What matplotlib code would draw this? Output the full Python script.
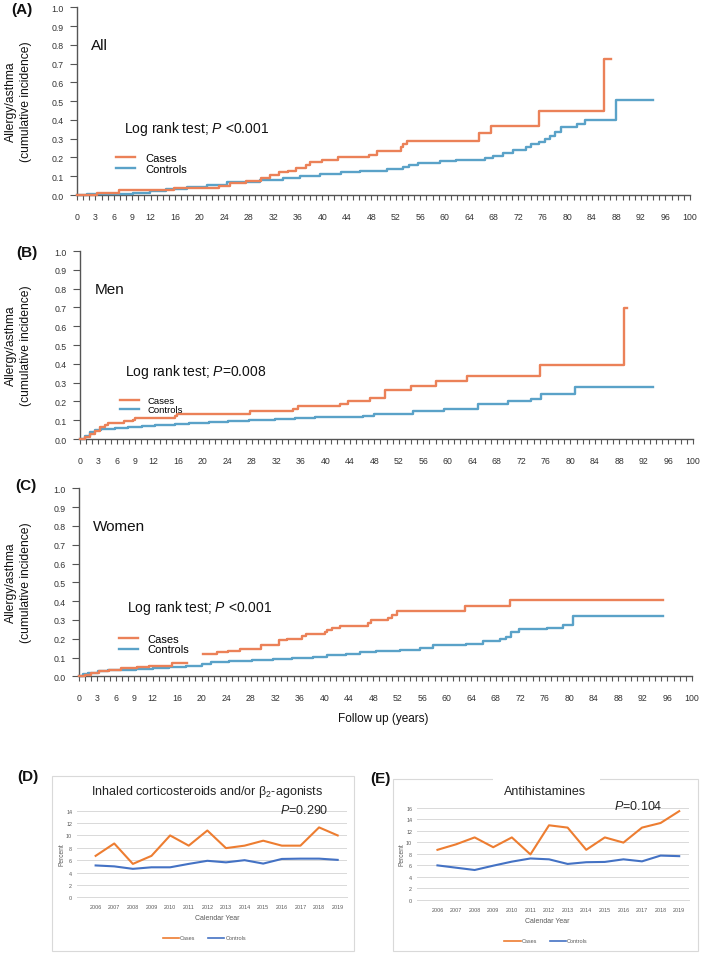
import matplotlib
matplotlib.use('Agg')
import matplotlib.pyplot as plt
import numpy as np
from matplotlib.patches import Rectangle
from matplotlib.lines import Line2D

# ---------------- data ----------------
km_xtick_labels = [0, 3, 6, 9, 12, 16, 20, 24, 28, 32, 36, 40, 44, 48, 52, 56, 60,
                   64, 68, 72, 76, 80, 84, 88, 92, 96, 100]

# Panel A (All)
a_cases_t = [0, 3.3, 6.8, 15.8, 23.2, 25.0, 27.5, 30.0, 31.5, 33.0, 34.5, 35.8, 37.4, 38.0,
             39.9, 42.6, 47.7, 49.0, 52.8, 53.2, 53.8, 65.5, 67.5, 75.3, 85.9, 87.1]
a_cases_y = [0, 0.008, 0.025, 0.035, 0.05, 0.065, 0.075, 0.09, 0.105, 0.12, 0.13, 0.145, 0.16,
             0.175, 0.185, 0.2, 0.215, 0.233, 0.256, 0.27, 0.29, 0.33, 0.368, 0.447, 0.725, 0.725]
a_ctrl_t = [0, 1.6, 9.2, 11.9, 14.5, 18.0, 21.2, 24.4, 29.9, 33.6, 36.4, 39.6, 43.0, 46.1,
            50.5, 53.2, 54.2, 55.6, 59.2, 61.9, 66.5, 67.8, 69.5, 71.1, 73.3, 74.1, 75.4, 76.3,
            77.1, 77.9, 79.0, 81.5, 82.8, 87.9, 93.9]
a_ctrl_y = [0, 0.003, 0.01, 0.02, 0.03, 0.045, 0.055, 0.07, 0.08, 0.09, 0.1, 0.11, 0.121, 0.13,
            0.139, 0.148, 0.16, 0.17, 0.179, 0.188, 0.197, 0.209, 0.222, 0.241, 0.257, 0.27,
            0.284, 0.298, 0.316, 0.334, 0.362, 0.378, 0.399, 0.506, 0.506]

# Panel B (Men)
b_cases_t = [0, 0.8, 1.6, 2.4, 3.3, 4.1, 4.6, 7.1, 8.7, 9.0, 15.5, 15.8, 27.7, 34.8, 35.6,
             42.4, 43.8, 47.3, 49.8, 54.0, 58.0, 63.2, 75.0, 88.8, 89.3]
b_cases_y = [0, 0.009, 0.027, 0.044, 0.062, 0.074, 0.085, 0.094, 0.103, 0.113, 0.122, 0.134,
             0.147, 0.159, 0.177, 0.185, 0.2, 0.219, 0.26, 0.283, 0.308, 0.337, 0.392, 0.699, 0.699]
b_ctrl_t = [0, 0.8, 1.6, 2.4, 3.5, 5.7, 7.9, 10.1, 12.2, 15.5, 17.7, 21.0, 24.2, 27.5, 31.8,
            35.1, 38.4, 42.0, 46.2, 48.0, 54.3, 59.4, 64.9, 69.8, 73.6, 75.2, 80.7, 93.5]
b_ctrl_y = [0, 0.014, 0.036, 0.048, 0.053, 0.059, 0.065, 0.071, 0.076, 0.081, 0.087, 0.092,
            0.097, 0.103, 0.106, 0.111, 0.116, 0.118, 0.125, 0.134, 0.149, 0.16, 0.188, 0.2,
            0.215, 0.237, 0.278, 0.278]

# Panel C (Women); NaN marks the short break in the cases curve
c_cases_t = [0, 1.0, 2.0, 3.3, 4.9, 6.8, 9.5, 11.4, 15.2, 17.6, 20.2, 22.5, 24.3, 26.2, 29.7,
             32.6, 34.0, 36.3, 37.1, 40.1, 40.4, 41.2, 42.5, 47.2, 47.7, 50.4, 51.0, 51.8,
             63.0, 70.3, 95.3]
c_cases_y = [0, 0.008, 0.017, 0.027, 0.036, 0.043, 0.048, 0.057, 0.07, np.nan, 0.118, 0.129,
             0.134, 0.146, 0.164, 0.191, 0.2, 0.212, 0.226, 0.235, 0.244, 0.256, 0.269, 0.281,
             0.297, 0.31, 0.328, 0.349, 0.372, 0.408, 0.408]
c_ctrl_t = [0, 0.6, 1.5, 3.1, 4.8, 9.3, 12.0, 14.7, 17.4, 20.1, 21.5, 24.5, 28.3, 31.6, 34.8,
            38.2, 40.4, 43.6, 45.8, 48.5, 52.3, 55.6, 57.7, 63.2, 65.9, 68.6, 69.7, 70.5,
            71.8, 76.3, 79.0, 80.6, 95.3]
c_ctrl_y = [0, 0.012, 0.02, 0.03, 0.036, 0.04, 0.046, 0.052, 0.057, 0.066, 0.075, 0.082,
            0.088, 0.091, 0.096, 0.102, 0.111, 0.12, 0.128, 0.135, 0.141, 0.153, 0.164, 0.173,
            0.186, 0.197, 0.21, 0.236, 0.249, 0.258, 0.271, 0.322, 0.322]

years = ['2006', '2007', '2008', '2009', '2010', '2011', '2012', '2013', '2014', '2015',
         '2016', '2017', '2018', '2019']
d_cases = [6.7, 8.7, 5.4, 6.7, 10.0, 8.35, 10.8, 7.95, 8.35, 9.15, 8.35, 8.35, 11.3, 10.0]
d_ctrl = [5.15, 5.0, 4.6, 4.85, 4.85, 5.4, 5.9, 5.65, 6.0, 5.45, 6.2, 6.25, 6.25, 6.05]
e_cases = [8.7, 9.65, 10.85, 9.15, 10.85, 7.9, 12.95, 12.55, 8.7, 10.85, 9.95, 12.55, 13.35, 15.4]
e_ctrl = [6.0, 5.6, 5.2, 5.95, 6.65, 7.2, 7.05, 6.25, 6.55, 6.6, 7.05, 6.7, 7.7, 7.6]

# ---------------- style ----------------
W, H = 709, 954
plt.rcParams['font.family'] = ['Liberation Sans', 'DejaVu Sans']
plt.rcParams['mathtext.fontset'] = 'custom'
plt.rcParams['mathtext.rm'] = 'Liberation Sans'
plt.rcParams['mathtext.it'] = 'Liberation Sans:italic'

KM_OR = '#EB8158'
KM_BL = '#5AA2C8'
XL_OR = '#ED7D31'
XL_BL = '#4472C4'
TXT = '#262626'

fig = plt.figure(figsize=(W / 100, H / 100), dpi=100)


def add_ax(x0, y0, x1, y1):
    return fig.add_axes([x0 / W, 1 - y1 / H, (x1 - x0) / W, (y1 - y0) / H])


def ftext(x, y, s, **kw):
    return fig.text(x / W, 1 - y / H, s, **kw)


def km_panel(box, ct, cy, kt, ky, group, ptxt, gx, px, py, leg_xy, leg_fs, leg_ls, leg_hl):
    ax = add_ax(*box)
    ax.plot(kt, ky, drawstyle='steps-post', color=KM_BL, lw=1.7, clip_on=False, zorder=3)
    ax.plot(ct, cy, drawstyle='steps-post', color=KM_OR, lw=1.7, clip_on=False, zorder=3)
    ax.set_xlim(0, 100)
    ax.set_ylim(0, 1)
    ax.set_xticks(np.arange(0, 101))
    ax.set_xticklabels([str(i) if i in km_xtick_labels else '' for i in range(101)])
    ax.set_yticks(np.round(np.arange(0, 1.01, 0.1), 1))
    ax.set_yticklabels(['%.1f' % v for v in np.arange(0, 1.01, 0.1)])
    for s in ['top', 'right']:
        ax.spines[s].set_visible(False)
    for s in ['left', 'bottom']:
        ax.spines[s].set_color('#555555')
        ax.spines[s].set_linewidth(1.0)
    ax.tick_params(axis='x', length=3.6, width=0.8, color='#555555', labelsize=6.3,
                   pad=8.3, labelcolor='#333333')
    ax.tick_params(axis='y', length=5, width=0.8, color='#555555', labelsize=6.3,
                   pad=4.5, labelcolor='#333333')
    ax.text(gx, 0.8, group, fontsize=11, va='center', ha='left', color='#111111')
    ax.text(px, py, ptxt, fontsize=10, va='center', ha='left', color='#111111')
    handles = [Line2D([], [], color=KM_OR, lw=1.7), Line2D([], [], color=KM_BL, lw=1.7)]
    ax.legend(handles, ['Cases', 'Controls'], loc='center left', bbox_to_anchor=leg_xy,
              frameon=False, fontsize=leg_fs, borderpad=0, borderaxespad=0,
              labelspacing=leg_ls, handlelength=leg_hl, handletextpad=0.9)
    return ax


km_panel((77, 8.3, 690, 196), a_cases_t, a_cases_y, a_ctrl_t, a_ctrl_y, 'All',
         r'Log rank test; $P$ <0.001', 2.3, 7.7, 0.357, (0.0636, 0.168), 8, 0.12, 1.7)
km_panel((80, 252, 693, 440), b_cases_t, b_cases_y, b_ctrl_t, b_ctrl_y, 'Men',
         r'Log rank test; $P$=0.008', 2.45, 7.3, 0.362, (0.065, 0.179), 6.8, 0.0, 2.0)
km_panel((79, 489.3, 692, 677.3), c_cases_t, c_cases_y, c_ctrl_t, c_ctrl_y, 'Women',
         r'Log rank test; $P$ <0.001', 2.3, 7.8, 0.369, (0.065, 0.172), 8, 0.08, 1.7)

ylab = 'Allergy/asthma\n(cumulative incidence)'
for yc in (102, 346, 583):
    ftext(18.5, yc, ylab, rotation=90, ha='center', va='center', fontsize=8.7,
          linespacing=1.4, color='#111111')

for lab, x, y in (('(A)', 22, 10), ('(B)', 27, 253), ('(C)', 26, 486), ('(D)', 28, 777),
                  ('(E)', 380, 779)):
    ftext(x, y, lab, fontsize=11, fontweight='bold', ha='center', va='center', color='#111111')

ftext(383, 719, 'Follow up (years)', fontsize=8.5, ha='center', va='center', color='#111111')

# ---------------- Excel-like panels ----------------
fig.patches.append(Rectangle((52 / W, 1 - 951.5 / H), (354 - 52) / W, (951.5 - 777) / H,
                             transform=fig.transFigure, fill=False, edgecolor='#D9D9D9',
                             lw=0.8, zorder=0))
fig.patches.append(Rectangle((393 / W, 1 - 951.5 / H), (698 - 393) / W, (951.5 - 780) / H,
                             transform=fig.transFigure, fill=False, edgecolor='#D9D9D9',
                             lw=0.8, zorder=0))
fig.patches.append(Rectangle((493 / W, 1 - 784 / H), (600 - 493) / W, 8 / H,
                             transform=fig.transFigure, facecolor='white', edgecolor='none',
                             zorder=1))


def xl_panel(box, xlim, cases, ctrl, ymax, title, tx, ty, ptxt, prx, pry, percent_x,
             cal_xy, leg_xy):
    ax = add_ax(*box)
    x = np.arange(len(years))
    ax.plot(x, cases, color=XL_OR, lw=1.5, solid_joinstyle='round')
    ax.plot(x, ctrl, color=XL_BL, lw=1.5, solid_joinstyle='round')
    ax.set_xlim(*xlim)
    ax.set_ylim(0, ymax)
    ax.set_yticks(np.arange(0, ymax + 1, 2))
    ax.set_xticks(x)
    ax.set_xticklabels(years)
    ax.yaxis.grid(True, color='#D9D9D9', lw=0.7)
    ax.set_axisbelow(True)
    for s in ['top', 'right', 'left']:
        ax.spines[s].set_visible(False)
    ax.spines['bottom'].set_color('#D9D9D9')
    ax.spines['bottom'].set_linewidth(0.7)
    ax.tick_params(axis='both', length=0, labelsize=3.9, labelcolor='#595959')
    ax.tick_params(axis='x', pad=5)
    ax.tick_params(axis='y', pad=3.5)
    ftext(tx, ty, title, fontsize=9, ha='center', va='center', color=TXT)
    ftext(prx, pry, ptxt, fontsize=9, ha='right', va='center', color=TXT)
    ftext(percent_x, 855, 'Percent', fontsize=4.8, rotation=90, ha='center', va='center',
          color='#595959')
    ftext(cal_xy[0], cal_xy[1], 'Calendar Year', fontsize=5, ha='center', va='center',
          color='#595959')
    handles = [Line2D([], [], color=XL_OR, lw=1.2), Line2D([], [], color=XL_BL, lw=1.2)]
    fig.legend(handles, ['Cases', 'Controls'], loc='center',
               bbox_to_anchor=(leg_xy[0] / W, 1 - leg_xy[1] / H), ncol=2, frameon=False,
               fontsize=4, handlelength=2.9, handletextpad=0.2, columnspacing=2.3,
               labelcolor='#595959')
    return ax


xl_panel((77, 811.7, 347, 898.3), (-1.0, 13.5), d_cases, d_ctrl, 14,
         r'Inhaled corticosteroids and/or $\mathrm{\beta}_2$-agonists', 207, 792,
         r'$P$=0.290', 328, 811, 62, (217, 919), (204.5, 939))
xl_panel((417, 808.7, 688.5, 901), (-1.1, 13.5), e_cases, e_ctrl, 16,
         'Antihistamines', 545, 791.7, r'$P$=0.104', 663, 806.7, 401.5, (547, 922),
         (546, 942))

fig.savefig('out.png', dpi=100)
